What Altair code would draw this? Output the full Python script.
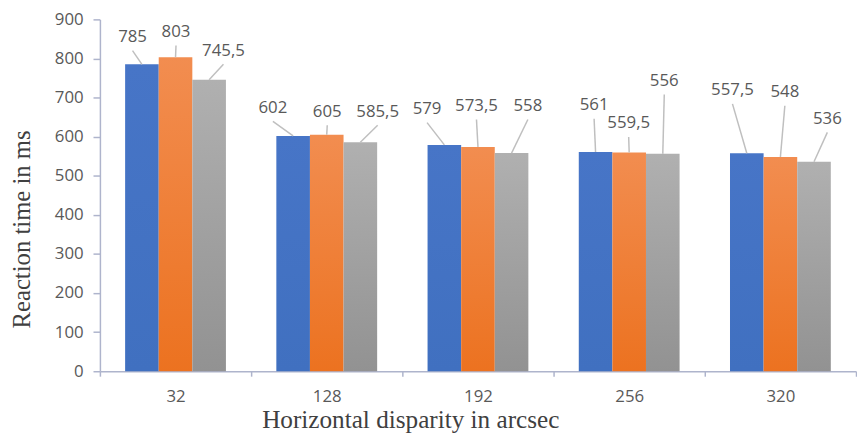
import altair as alt
import pandas as pd

# ---- data ----
categories = ["32", "128", "192", "256", "320"]
series = ["Series 1", "Series 2", "Series 3"]
values_s1 = [785, 602, 579, 561, 557.5]
values_s2 = [803, 605, 573.5, 559.5, 548]
values_s3 = [745.5, 585.5, 558, 556, 536]

# callout placement (label height in ms, horizontal shift in px from bar centre)
callout_y_s1 = [855, 674, 671, 681, 719]
callout_y_s2 = [868, 664, 679, 634, 714]
callout_y_s3 = [820, 664, 679, 743, 646]
callout_dx_s1 = [-9.5, -20.5, -17.5, -1.5, -14.5]
callout_dx_s2 = [0.5, 0.5, -1.5, -0.5, 4.5]
callout_dx_s3 = [14.5, 17.5, 16.5, 1.5, 13.5]

W, H = 765, 356
STEP_PX = W / len(categories)
OFF_PAD = 0.75  # outer padding of the series offset scale (in bar widths)
BAR_FRAC = 1 / (len(series) + 2 * OFF_PAD)  # bar width as a fraction of the category step
LEADER_GAP = 35  # ms between label centre and leader start


def fmt(v):
    s = ("%g" % v)
    return s.replace(".", ",")


rows = []
for k, (name, vals, cys, cdx) in enumerate(zip(
        series,
        [values_s1, values_s2, values_s3],
        [callout_y_s1, callout_y_s2, callout_y_s3],
        [callout_dx_s1, callout_dx_s2, callout_dx_s3])):
    for i, cat in enumerate(categories):
        bar_x = i + 0.5 + (k - 1) * BAR_FRAC
        lab_x = bar_x + cdx[i] / STEP_PX
        rows.append(dict(cat=cat, series=name, value=vals[i], label=fmt(vals[i]),
                         bar_x=bar_x, lab_x=lab_x, lab_y=cys[i],
                         lead_y=cys[i] - LEADER_GAP))
df = pd.DataFrame(rows)

AXIS_COLOR = "#AEB4CC"
LABEL_COLOR = "#595959"
TITLE_COLOR = "#404040"

x_axis = alt.Axis(
    labelAngle=0, tickBand="extent", ticks=True, tickSize=5,
    tickColor=AXIS_COLOR, tickWidth=1.5, domainColor=AXIS_COLOR, domainWidth=1.5,
    labelFont="Open Sans", labelFontSize=17, labelColor=LABEL_COLOR, labelPadding=13,
    title="Horizontal disparity in arcsec", titleFont="Liberation Serif",
    titleFontSize=25.5, titleFontWeight="normal", titleColor=TITLE_COLOR,
    titleX=314, titleY=57, titleBaseline="alphabetic", grid=False)

y_axis = alt.Axis(
    values=list(range(0, 901, 100)), tickSize=7, tickColor=AXIS_COLOR, tickWidth=1.5,
    domainColor=AXIS_COLOR, domainWidth=1.5,
    labelFont="Open Sans", labelFontSize=17, labelColor=LABEL_COLOR, labelPadding=10,
    title="Reaction time in ms", titleFont="Liberation Serif", titleFontSize=25,
    titleFontWeight="normal", titleColor=TITLE_COLOR,
    titleX=-71, titleY=212, titleBaseline="alphabetic", grid=False)

yq = alt.Scale(domain=[0, 900], nice=False)

x_enc = alt.X("cat:N", sort=categories,
              scale=alt.Scale(paddingInner=0, paddingOuter=0), axis=x_axis)
xoff_enc = alt.XOffset("series:N",
                       scale=alt.Scale(domain=series, paddingInner=0, paddingOuter=OFF_PAD))
y_enc = alt.Y("value:Q", scale=yq, axis=y_axis)

fills = [
    ("#4775C7", "#4070C0"),
    ("#F28D50", "#EC7220"),
    ("#B0B0B0", "#929292"),
]

bar_layers = []
for name, (c_top, c_bot) in zip(series, fills):
    grad = alt.Gradient(
        gradient="linear",
        stops=[alt.GradientStop(color=c_top, offset=0), alt.GradientStop(color=c_bot, offset=1)],
        x1=0, x2=0, y1=0, y2=1,
    )
    bar_layers.append(
        alt.Chart(df).transform_filter(alt.datum.series == name)
        .mark_bar(fill=grad)
        .encode(x=x_enc, xOffset=xoff_enc, y=y_enc)
    )
bars = alt.layer(*bar_layers)

xq = alt.Scale(domain=[0, len(categories)], nice=False, zero=False)

leaders = alt.Chart(df).mark_rule(color="#BFBFBF", strokeWidth=1.5).encode(
    x=alt.X("lab_x:Q", scale=xq, axis=None),
    x2="bar_x:Q",
    y=alt.Y("lead_y:Q", scale=yq, axis=y_axis),
    y2="value:Q",
)
texts = alt.Chart(df).mark_text(
    font="Open Sans", fontSize=17, color=LABEL_COLOR, align="center", baseline="middle"
).encode(
    x=alt.X("lab_x:Q", scale=xq, axis=None),
    y=alt.Y("lab_y:Q", scale=yq, axis=y_axis),
    text="label:N",
)
labels = alt.layer(leaders, texts)

chart = alt.layer(bars, labels).resolve_scale(x="independent").properties(
    width=W, height=H,
    padding={"left": 2, "top": 0, "right": 0, "bottom": 0},
    background="white",
).configure_view(stroke=None)

chart.save("out.html", embed_options={"renderer": "svg", "actions": False})
